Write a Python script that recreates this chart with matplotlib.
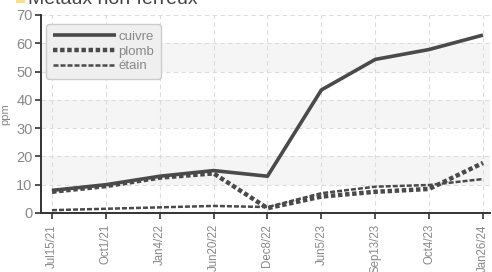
import matplotlib.pyplot as plt
from matplotlib.patches import Rectangle

# données
dates = ['Jul15/21', 'Oct1/21', 'Jan4/22', 'Jun20/22', 'Dec8/22',
         'Jun5/23', 'Sep13/23', 'Oct4/23', 'Jan26/24']
cuivre = [8, 10, 13, 15, 13, 43.5, 54.3, 57.8, 62.9]
plomb = [7.5, 9.5, 12.5, 14, 1.7, 5.8, 7.5, 8.5, 17.7]
etain = [1, 1.5, 2, 2.5, 2.1, 7, 9.3, 9.9, 12]

plt.rcParams['font.family'] = ['Liberation Sans', 'DejaVu Sans']

fig = plt.figure(figsize=(4.92, 2.72), dpi=100)
ax = fig.add_axes([41/492, 1-213/272, 449/492, 198/272])

x = list(range(len(dates)))
col = '#4a4a4a'
ax.plot(x, cuivre, color=col, lw=2.6, label='cuivre', solid_capstyle='butt')
ax.plot(x, plomb, color=col, lw=3.2, ls=(0, (1, 0.6)), label='plomb')
ax.plot(x, etain, color=col, lw=1.8, ls=(0, (2, 0.8)), label='étain')

ax.set_xlim(-0.204, 8.13)
ax.set_ylim(0, 70)

# bandes grises
for y0 in (10, 30, 50):
    ax.add_patch(Rectangle((-1, y0), 12, 10, color='#f5f5f5', zorder=0, lw=0))

ax.set_xticks(x)
ax.set_xticklabels(dates, rotation=90, color='#888888', fontsize=8.3)
ax.set_yticks(range(0, 71, 10))
ax.tick_params(axis='y', labelcolor='#888888', labelsize=10.5, length=4, width=1.2, color='#333333', pad=2)
ax.tick_params(axis='x', length=4, width=1.2, color='#333333', pad=4)
ax.grid(True, color='#dddddd', ls=(0, (4, 3)), lw=0.8)
ax.set_axisbelow(True)

for s in ('top', 'right'):
    ax.spines[s].set_visible(False)
for s in ('left', 'bottom'):
    ax.spines[s].set_color('#333333')
    ax.spines[s].set_linewidth(1.4)

ax.set_ylabel('ppm', color='#888888', fontsize=8, labelpad=4)

leg = ax.legend(loc='upper left', bbox_to_anchor=(0.012, 0.955), fontsize=9.5,
                handlelength=4.8, handletextpad=0.15, labelspacing=0.2,
                fancybox=True, framealpha=1, borderpad=0.5, borderaxespad=0)
leg.get_frame().set_facecolor('#efefef')
leg.get_frame().set_edgecolor('#cccccc')
for t in leg.get_texts():
    t.set_color('#888888')

# titre coupé en haut
fig.patches.append(Rectangle((16/492, 1-3/272), 9/492, 4/272, transform=fig.transFigure,
                             color='#f7e08a', lw=0))
fig.text(28/492, 1+1/272, 'Métaux non-ferreux', fontsize=14, color='#444444', va='center')

fig.savefig('out.png', dpi=100)
